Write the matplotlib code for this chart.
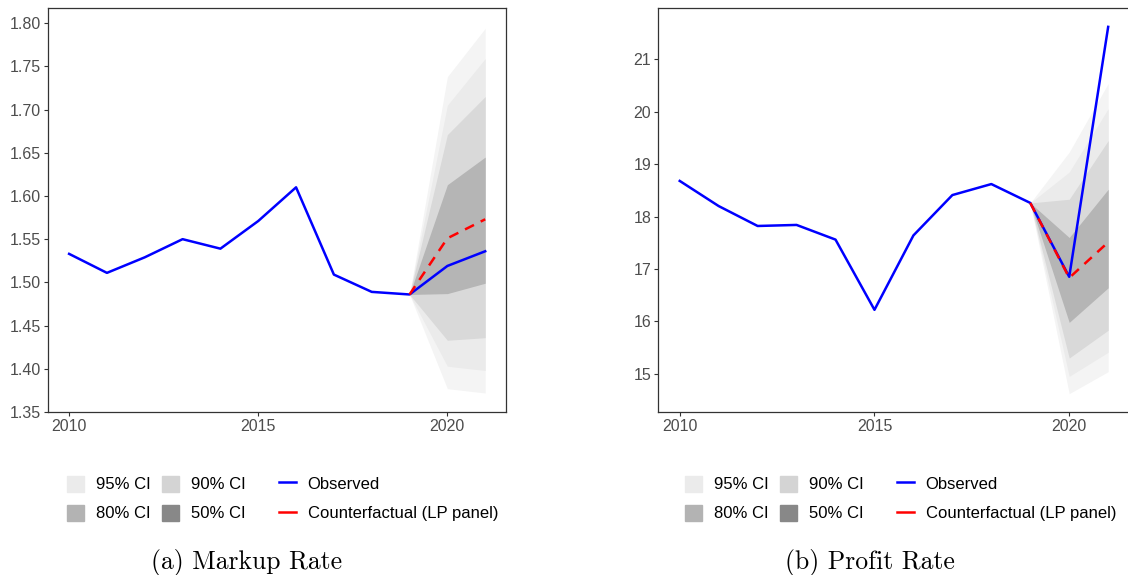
import numpy as np
import matplotlib.pyplot as plt
from matplotlib.patches import Patch
from matplotlib.lines import Line2D

plt.rcParams['font.family'] = ['Liberation Sans', 'DejaVu Sans']

years = np.arange(2010, 2022)
fc_years = [2019, 2020, 2021]

# (a) Markup rate
markup_obs = [1.533, 1.511, 1.529, 1.550, 1.539, 1.571, 1.610, 1.509, 1.489, 1.486, 1.519, 1.536]
markup_cf = [1.486, 1.551, 1.573]
markup_lo = {95: [1.486, 1.377, 1.372], 90: [1.486, 1.403, 1.398],
             80: [1.486, 1.433, 1.436], 50: [1.486, 1.487, 1.499]}
markup_hi = {95: [1.486, 1.738, 1.794], 90: [1.486, 1.705, 1.759],
             80: [1.486, 1.671, 1.715], 50: [1.486, 1.613, 1.645]}

# (b) Profit rate
profit_obs = [18.68, 18.20, 17.82, 17.84, 17.56, 16.22, 17.64, 18.41, 18.62, 18.26, 16.85, 21.62]
profit_cf = [18.26, 16.83, 17.51]
profit_lo = {95: [18.26, 14.62, 15.04], 90: [18.26, 14.95, 15.41],
             80: [18.26, 15.30, 15.83], 50: [18.26, 15.98, 16.64]}
profit_hi = {95: [18.26, 19.23, 20.54], 90: [18.26, 18.85, 20.06],
             80: [18.26, 18.33, 19.45], 50: [18.26, 17.60, 18.52]}

levels = [95, 90, 80, 50]
band_cols = {95: '#F4F4F4', 90: '#EBEBEB', 80: '#D9D9D9', 50: '#B5B5B5'}
key_cols = {95: '#EBEBEB', 90: '#D4D4D4', 80: '#B3B3B3', 50: '#888888'}

fig = plt.figure(figsize=(11.28, 5.75), dpi=100)
W, H = 1128, 575

leg_kw = dict(loc='upper left', frameon=False, fontsize=12, handlelength=1.0,
              handleheight=1.1, handletextpad=0.72, columnspacing=0.7,
              labelspacing=0.75, borderpad=0, borderaxespad=0)


def panel(rect, obs, cf, lo, hi, ylim, yticks, yfmt, leg_x, caption, cap_x):
    ax = fig.add_axes(rect)
    for lv in levels:
        ax.fill_between(fc_years, lo[lv], hi[lv], color=band_cols[lv], lw=0, zorder=1)
    ax.plot(years, obs, color='#0000FF', lw=1.8, zorder=3)
    ax.plot(fc_years, cf, color='#FF0000', lw=1.8, dashes=(4, 3), zorder=4)
    ax.set_xlim(2009.45, 2021.55)
    ax.set_ylim(*ylim)
    ax.set_xticks([2010, 2015, 2020])
    ax.set_yticks(yticks)
    ax.set_yticklabels([yfmt.format(t) for t in yticks])
    ax.tick_params(colors='#333333', labelcolor='#4D4D4D', labelsize=11.5, length=3, width=0.8, pad=2)
    for s in ax.spines.values():
        s.set_color('#333333')
        s.set_linewidth(0.9)

    # fill legend (2 x 2) and line legend, side by side as in ggplot
    fill_h = [Patch(color=key_cols[95]), Patch(color=key_cols[80]),
              Patch(color=key_cols[90]), Patch(color=key_cols[50])]
    fill_l = ['95% CI', '80% CI', '90% CI', '50% CI']
    fig.legend(fill_h, fill_l, ncol=2, bbox_to_anchor=(leg_x / W, 1 - 475.5 / H), **leg_kw)
    line_h = [Line2D([], [], color='#0000FF', lw=1.8), Line2D([], [], color='#FF0000', lw=1.8)]
    line_l = ['Observed', 'Counterfactual (LP panel)']
    fig.legend(line_h, line_l, ncol=1, bbox_to_anchor=((leg_x + 212) / W, 1 - 475.5 / H), **leg_kw)

    fig.text(cap_x / W, 1 - 563 / H, caption, ha='center', va='center',
             fontsize=18.5, family='cmr10')
    return ax


panel([48.3 / W, 1 - 412 / H, 457.7 / W, 404 / H], markup_obs, markup_cf, markup_lo, markup_hi,
      (1.3505, 1.8175), np.arange(1.35, 1.801, 0.05), '{:.2f}', 67, '(a) Markup Rate', 247)
panel([658.3 / W, 1 - 412 / H, 471.3 / W, 404 / H], profit_obs, profit_cf, profit_lo, profit_hi,
      (14.27, 21.98), np.arange(15, 22), '{:.0f}', 685, '(b) Profit Rate', 870)

fig.savefig('out.png', dpi=100)
